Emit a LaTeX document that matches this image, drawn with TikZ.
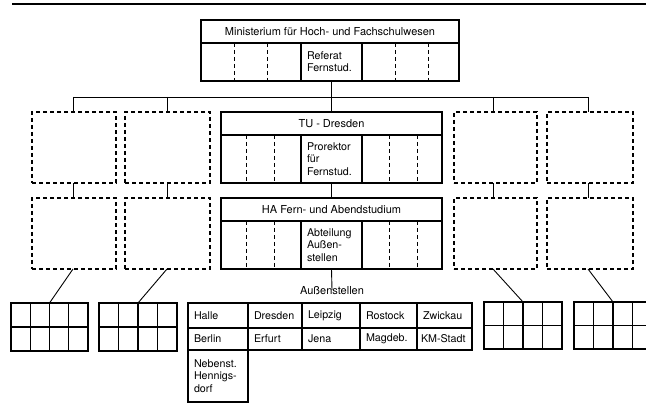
\documentclass[tikz,border=0pt]{standalone}
\usepackage{fontspec}
\setmainfont{TeX Gyre Heros}
\usetikzlibrary{calc}
\begin{document}
\begin{tikzpicture}[x=1pt,y=-1pt,
  every node/.style={font=\fontsize{10.7}{12.3}\selectfont, inner sep=0pt, outer sep=0pt},
  hfont/.style={font=\fontsize{11}{12}\selectfont},
  sbox/.style={draw, line width=1.1pt, anchor=north west},
  dbox/.style={draw, line width=1.2pt, dash pattern=on 4pt off 3pt, anchor=north west},
  cell/.style={sbox, align=left, inner xsep=6pt},
  ddiv/.style={line width=1pt, dash pattern=on 4pt off 3pt},
  conn/.style={line width=0.9pt},
  gridline/.style={line width=1.1pt}]
\useasboundingbox (0,0) rectangle (646,409);
% top rule
\draw[line width=1.5pt] (12,4) -- (646,4);

% Ministerium
\node[sbox, minimum width=258pt, minimum height=23pt, hfont] (mh) at (201,20) {Ministerium für Hoch- und Fachschulwesen};
\node[sbox, minimum width=258pt, minimum height=38pt] (mrow) at (201,43) {};
\node[cell, minimum width=61pt, minimum height=38pt, text width=49pt] (ref) at (301,43) {Referat\\Fernstud.};
\foreach \x in {234,267,395,428} \draw[ddiv] (\x,43) -- (\x,81);

% bus
\coordinate (busL) at (73,97);
\coordinate (busR) at (588,97);
\draw[conn] (busL) -- (busR);
\draw[conn] (ref.south) -- (ref.south |- busL);

% TU Dresden
\node[sbox, minimum width=221pt, minimum height=23pt, hfont] (tu) at (221,112) {TU - Dresden};
\node[sbox, minimum width=221pt, minimum height=48pt] (turow) at (221,135) {};
\node[cell, minimum width=61pt, minimum height=48pt, text width=49pt] (pro) at (301,135) {Prorektor\\für\\Fernstud.};
\foreach \x in {246,274,389,417} \draw[ddiv] (\x,135) -- (\x,183);

% HA
\node[sbox, minimum width=221pt, minimum height=23pt, hfont] (ha) at (221,198) {HA Fern- und Abendstudium};
\node[sbox, minimum width=221pt, minimum height=48pt] (harow) at (221,221) {};
\node[cell, minimum width=61pt, minimum height=48pt, text width=49pt] (abt) at (301,221) {Abteilung\\Außen-\\stellen};
\foreach \x in {246,274,389,417} \draw[ddiv] (\x,221) -- (\x,269);

\draw[conn] (ref.south |- busL) -- (tu.north);
\draw[conn] (pro.south) -- (ha.north);

% dashed boxes
\node[dbox, minimum width=84pt, minimum height=71pt] (d1) at (32,112) {};
\node[dbox, minimum width=85pt, minimum height=71pt] (d2) at (125,112) {};
\node[dbox, minimum width=83pt, minimum height=71pt] (d3) at (454,112) {};
\node[dbox, minimum width=86pt, minimum height=71pt] (d4) at (547,112) {};
\node[dbox, minimum width=84pt, minimum height=71pt] (e1) at (32,198) {};
\node[dbox, minimum width=85pt, minimum height=71pt] (e2) at (125,198) {};
\node[dbox, minimum width=83pt, minimum height=71pt] (e3) at (454,198) {};
\node[dbox, minimum width=86pt, minimum height=71pt] (e4) at (547,198) {};

\coordinate (b1) at (73,97);
\coordinate (b2) at (167,97);
\coordinate (b3) at (493,97);
\coordinate (b4) at (588,97);
\draw[conn] (b1) -- (b1 |- d1.north);
\draw[conn] (b2) -- (b2 |- d2.north);
\draw[conn] (b3) -- (b3 |- d3.north);
\draw[conn] (b4) -- (b4 |- d4.north);
\draw[conn] (b1 |- d1.south) -- (b1 |- e1.north);
\draw[conn] (b2 |- d2.south) -- (b2 |- e2.north);
\draw[conn] (b3 |- d3.south) -- (b3 |- e3.north);
\draw[conn] (b4 |- d4.south) -- (b4 |- e4.north);

% grids
\node[sbox, minimum width=77pt, minimum height=48pt] (g1) at (11,303) {};
\node[sbox, minimum width=78pt, minimum height=48pt] (g2) at (99,303) {};
\node[sbox, minimum width=78pt, minimum height=47pt] (g3) at (484,302) {};
\node[sbox, minimum width=78pt, minimum height=47pt] (g4) at (574,302) {};
\foreach \g/\w in {g1/77,g2/78,g3/78,g4/78} {
  \draw[gridline] (\g.west) -- (\g.east);
  \foreach \k in {1,2,3}
    \draw[gridline] ($(\g.north west)+(\k*\w/4,0)$) -- ($(\g.south west)+(\k*\w/4,0)$);
}
\coordinate (t1) at ($(g1.north west)+(38.5,0)$);
\coordinate (t2) at ($(g2.north west)+(39,0)$);
\coordinate (t3) at ($(g3.north west)+(39,0)$);
\coordinate (t4) at ($(g4.north west)+(39,0)$);
\draw[conn] (b1 |- e1.south) -- (t1);
\draw[conn] (b2 |- e2.south) -- (t2);
\draw[conn] (b3 |- e3.south) -- (t3);
\draw[conn] (b4 |- e4.south) -- (t4);

% Aussenstellen
\node[hfont] (al) at (332,291) {Außenstellen};
\draw[conn] (abt.south) -- ([yshift=-3pt]al.north);

\node[cell, minimum width=60pt, minimum height=25pt, text width=48pt] (c11) at (188,303) {Halle};
\node[cell, minimum width=54pt, minimum height=25pt, text width=42pt] (c12) at (248,303) {Dresden};
\node[cell, minimum width=58pt, minimum height=25pt, text width=46pt] (c13) at (302,303) {Leipzig};
\node[cell, minimum width=57pt, minimum height=25pt, text width=45pt] (c14) at (360,303) {Rostock};
\node[cell, minimum width=55pt, minimum height=25pt, text width=43pt] (c15) at (417,303) {Zwickau};
\node[cell, minimum width=60pt, minimum height=22pt, text width=48pt] (c21) at (188,328) {Berlin};
\node[cell, minimum width=54pt, minimum height=22pt, text width=42pt] (c22) at (248,328) {Erfurt};
\node[cell, minimum width=58pt, minimum height=22pt, text width=46pt] (c23) at (302,328) {Jena};
\node[cell, minimum width=57pt, minimum height=22pt, text width=45pt] (c24) at (360,328) {Magdeb.};
\node[cell, minimum width=55pt, minimum height=22pt, text width=47pt, inner xsep=4pt] (c25) at (417,328) {\mbox{KM-Stadt}};
\node[cell, minimum width=60pt, minimum height=52pt, text width=48pt] (c31) at (188,350) {Nebenst.\\Hennigs-\\dorf};
\end{tikzpicture}
\end{document}
